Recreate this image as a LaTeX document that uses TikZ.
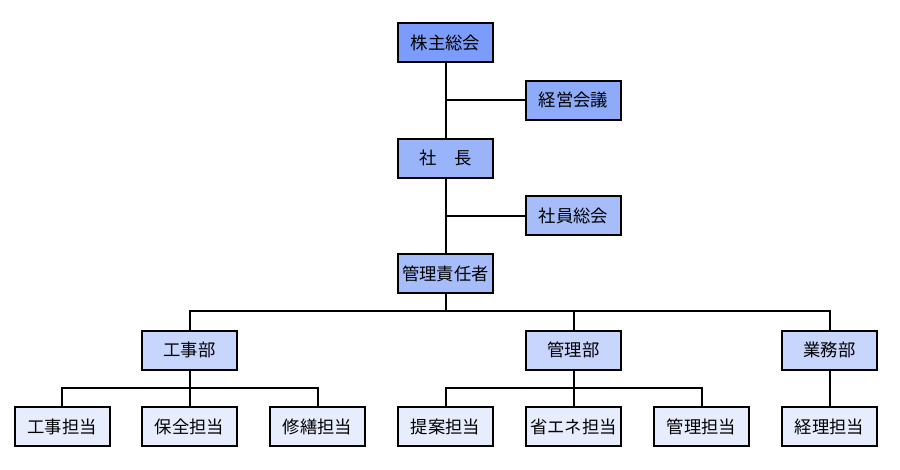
\documentclass[tikz,border=0pt]{standalone}
\usepackage{fontspec}
\setmainfont{Noto Sans CJK JP}
\definecolor{cA}{RGB}{123,156,250}
\definecolor{cB}{RGB}{142,171,249}
\definecolor{cC}{RGB}{154,180,250}
\definecolor{cD}{RGB}{166,189,250}
\definecolor{cE}{RGB}{200,213,252}
\definecolor{cF}{RGB}{232,237,254}
\begin{document}
\begin{tikzpicture}[x=0.75pt,y=-0.75pt,
  box/.style={draw=black,line width=1.5pt,minimum width=71.25pt,minimum height=29.25pt,inner sep=0pt,font=\fontsize{13pt}{15pt}\selectfont},
  link/.style={line width=1.5pt}]
\useasboundingbox (0,0) rectangle (900,469);
\node[box,fill=cA] (kabu) at (445.5,42.5) {株主総会};
\node[box,fill=cB] (keiei) at (573.5,100) {経営会議};
\node[box,fill=cC] (shacho) at (445.5,158) {社\hspace{1em}長};
\node[box,fill=cD] (shain) at (573.5,215.5) {社員総会};
\node[box,fill=cD] (kanri) at (445.5,273.5) {管理責任者};
\node[box,fill=cE] (koji) at (189.5,350) {工事部};
\node[box,fill=cE] (kanribu) at (573.5,350) {管理部};
\node[box,fill=cE] (gyomu) at (829.5,350) {業務部};
\node[box,fill=cF] (k1) at (62,426.5) {工事担当};
\node[box,fill=cF] (k2) at (189.5,426.5) {保全担当};
\node[box,fill=cF] (k3) at (317.5,426.5) {修繕担当};
\node[box,fill=cF] (m1) at (445.5,426.5) {提案担当};
\node[box,fill=cF] (m2) at (573.5,426.5) {省エネ担当};
\node[box,fill=cF] (m3) at (701.5,426.5) {管理担当};
\node[box,fill=cF] (g1) at (829.5,426.5) {経理担当};
\draw[link] (kabu) -- (shacho);
\draw[link] (shacho) -- (kanri);
\draw[link] (kabu |- keiei) -- (keiei);
\draw[link] (shacho |- shain) -- (shain);
\coordinate (bus) at (445.5,311);
\draw[link] (kanri) -- (bus);
\draw[link] (koji) -- (koji |- bus) -- (gyomu |- bus) -- (gyomu);
\draw[link] (kanribu |- bus) -- (kanribu);
\coordinate (bk) at (189.5,388);
\draw[link] (koji) -- (k2);
\draw[link] (k1) -- (k1 |- bk) -- (k3 |- bk) -- (k3);
\draw[link] (kanribu) -- (m2);
\draw[link] (m1) -- (m1 |- bk) -- (m3 |- bk) -- (m3);
\draw[link] (gyomu) -- (g1);
\end{tikzpicture}
\end{document}
